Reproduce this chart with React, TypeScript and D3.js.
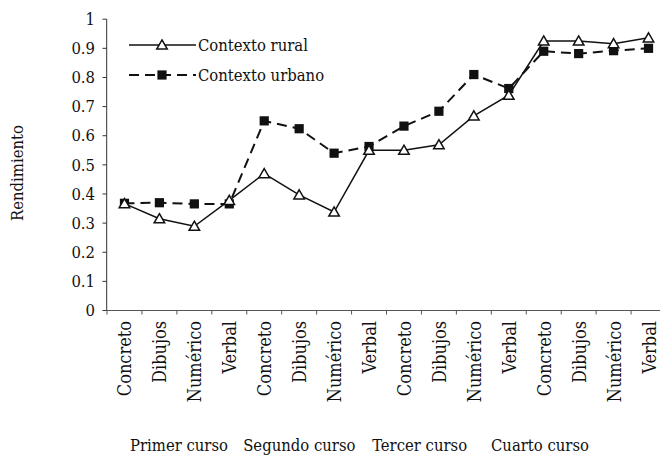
import React from "react";
import * as d3 from "d3";

const groups = ["Primer curso", "Segundo curso", "Tercer curso", "Cuarto curso"];
const tasks = ["Concreto", "Dibujos", "Numérico", "Verbal"];
const rural = [0.367, 0.315, 0.289, 0.378, 0.47, 0.397, 0.338, 0.55, 0.55, 0.569, 0.668, 0.739, 0.925, 0.925, 0.916, 0.936];
const urbano = [0.368, 0.37, 0.366, 0.366, 0.651, 0.624, 0.54, 0.563, 0.633, 0.684, 0.81, 0.762, 0.89, 0.882, 0.892, 0.9];
const yTicks = [0, 0.1, 0.2, 0.3, 0.4, 0.5, 0.6, 0.7, 0.8, 0.9, 1];
const seriesNames = ["Contexto rural", "Contexto urbano"];

const W = 660, H = 456;
const FONT = "'DejaVu Serif Condensed', 'DejaVu Serif', serif";

export default function App() {
  const cats = groups.flatMap((g) => tasks.map((t) => `${g}|${t}`));
  const x = d3.scaleBand().domain(cats).range([107, 666]);
  const y = d3.scaleLinear().domain([0, 1]).range([310.5, 19.2]);
  const gx = d3.scalePoint().domain(groups).range([179, 540]);
  const cx = (i: number) => (x(cats[i]) as number) + x.bandwidth() / 2;
  const line = d3.line<number>().x((_, i) => cx(i)).y((v) => y(v));
  const tri = d3.symbol().type(d3.symbolTriangle).size(48);
  const sq = (px: number, py: number, k: string | number) => (
    <rect key={k} x={px - 4.6} y={py - 4.6} width={9.2} height={9.2} fill="#111" />
  );
  const triM = (px: number, py: number, k: string | number) => (
    <path key={k} d={tri() as string} transform={`translate(${px},${py + 1})`} fill="#fff" stroke="#111" strokeWidth={1.5} />
  );
  return (
    <svg width={W} height={H} style={{ position: "absolute", left: 0, top: 0 }}>
      <rect width={W} height={H} fill="#fff" />
      <g style={{ fontFamily: FONT, fontStretch: "condensed" }}>
        {/* y axis */}
        <line x1={106.7} x2={106.7} y1={y(1)} y2={y(0)} stroke="#333" strokeWidth={1} />
        {yTicks.map((t) => (
          <g key={t}>
            <line x1={102.5} x2={106.7} y1={y(t)} y2={y(t)} stroke="#333" />
            <text x={95} y={y(t)} dy="0.35em" textAnchor="end" fontSize={16.5} fill="#111">
              {t === 0 || t === 1 ? String(t) : t.toFixed(1)}
            </text>
          </g>
        ))}
        {/* x axis */}
        <line x1={106.7} x2={666} y1={y(0)} y2={y(0)} stroke="#555" strokeWidth={1} />
        {cats.map((c) => (
          <line key={c} x1={x(c)} x2={x(c)} y1={y(0)} y2={y(0) + 4} stroke="#555" />
        ))}
        {cats.map((c, i) => (
          <text key={"l" + c} transform={`translate(${cx(i) + 7},321) rotate(-90)`} textAnchor="end" fontSize={18} fill="#111">
            {c.split("|")[1]}
          </text>
        ))}
        {groups.map((g) => (
          <text key={g} x={gx(g)} y={451} textAnchor="middle" fontSize={16.5} fill="#111">{g}</text>
        ))}
        <text transform="translate(23,173) rotate(-90)" textAnchor="middle" fontSize={16.5} fill="#111">Rendimiento</text>
        {/* series */}
        <path d={line(urbano) as string} fill="none" stroke="#111" strokeWidth={2} strokeDasharray="10,6" />
        <path d={line(rural) as string} fill="none" stroke="#111" strokeWidth={1.5} />
        {urbano.map((v, i) => sq(cx(i), y(v), "u" + i))}
        {rural.map((v, i) => triM(cx(i), y(v), "r" + i))}
        {/* legend */}
        <line x1={129} x2={196} y1={45} y2={45} stroke="#111" strokeWidth={1.5} />
        {triM(162, 45, "lt")}
        <text x={198} y={45} dy="0.35em" fontSize={16.5} fill="#111">{seriesNames[0]}</text>
        <line x1={129} x2={196} y1={75} y2={75} stroke="#111" strokeWidth={2} strokeDasharray="10,6" />
        {sq(162, 75, "ls")}
        <text x={198} y={75} dy="0.35em" fontSize={16.5} fill="#111">{seriesNames[1]}</text>
      </g>
    </svg>
  );
}
